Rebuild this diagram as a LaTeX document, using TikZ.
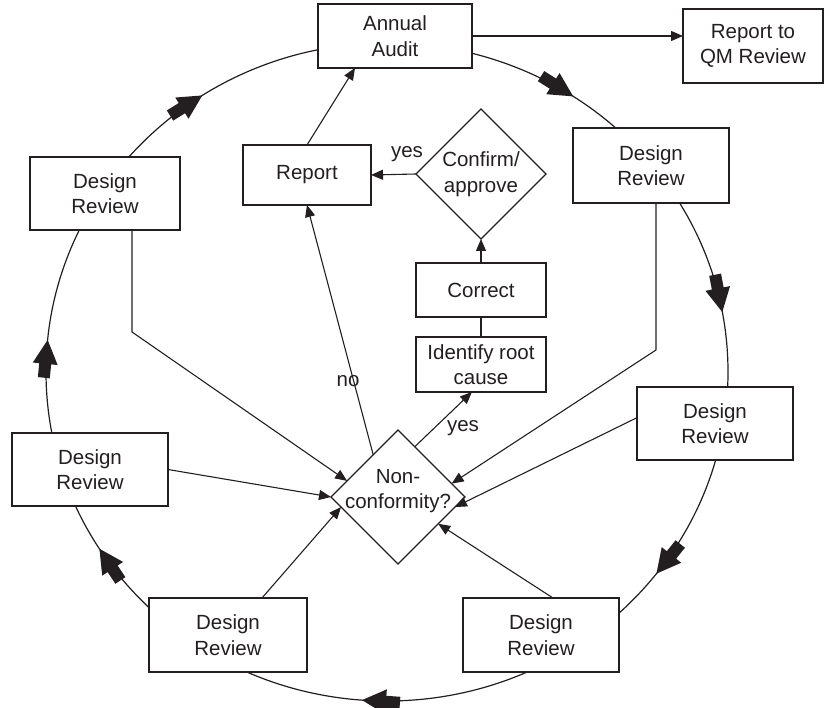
\documentclass[tikz,border=0pt]{standalone}
\usepackage{fontspec}
\setmainfont{Liberation Sans}
\usetikzlibrary{arrows.meta,shapes.geometric,calc}
\definecolor{ink}{RGB}{35,31,32}

\begin{document}
\begin{tikzpicture}[x=1pt,y=-1pt,
  every node/.style={font=\fontsize{20.5}{25.5}\selectfont, text=ink},
  box/.style={draw=ink, line width=1.2pt, fill=white, align=center,
    inner sep=0pt, outer sep=0pt},
  decision/.style={diamond, aspect=1, draw=ink, line width=1.2pt, fill=white,
    inner sep=0pt, outer sep=0pt},
  inside/.style={align=center, inner sep=0pt},
  lbl/.style={inner sep=0pt},
  flow/.style={draw=ink, line width=1.1pt, -{Triangle[length=12pt,width=10pt]}},
  link/.style={draw=ink, line width=1.1pt},
  ring/.style={draw=ink, line width=1.2pt},
  cycarrow/.pic={\fill[ink] (0,0) -- (-24,-12.5) -- (-24,-6) -- (-38,-6)
    -- (-38,6) -- (-24,6) -- (-24,12.5) -- cycle;}]

\useasboundingbox (0,0) rectangle (830,708);

% the review cycle
\draw[ring] (387,372) ellipse [x radius=341, y radius=329];
\foreach \t in {237.2, 303.1, 349.5, 37.8, 94.2, 147.5, 185.6} {
  \pgfmathsetmacro\ax{387+341*cos(\t)}
  \pgfmathsetmacro\ay{372+329*sin(\t)}
  \pgfmathsetmacro\ar{atan2(-329*cos(\t),-341*sin(\t))}
  \pic[rotate=\ar] at (\ax,\ay) {cycarrow};
}

% boxes on the cycle
\node[box, minimum width=154pt, minimum height=64pt] (audit) at (395,36) {Annual\\Audit};
\node[box, minimum width=140pt, minimum height=74pt] (qm) at (753,46) {Report to\\QM Review};
\node[box, minimum width=150pt, minimum height=73pt] (dr1) at (105,193.5) {Design\\Review};
\node[box, minimum width=156pt, minimum height=73pt] (dr2) at (90,469.5) {Design\\Review};
\node[box, minimum width=158pt, minimum height=74pt] (dr3) at (228,635) {Design\\Review};
\node[box, minimum width=156pt, minimum height=74pt] (dr4) at (541,635) {Design\\Review};
\node[box, minimum width=156pt, minimum height=73pt] (dr5) at (715,423.5) {Design\\Review};
\node[box, minimum width=156pt, minimum height=75pt] (dr6) at (651,165.5) {Design\\Review};

% inner flow
\node[box, minimum width=128pt, minimum height=60pt] (report) at (307,175) {Report};
\node[decision, minimum size=130pt,
  label={[inside]center:Confirm/\\approve}] (confirm) at (481,174) {};
\node[box, minimum width=130pt, minimum height=54pt] (correct) at (481,290) {Correct};
\node[box, minimum width=130pt, minimum height=55pt] (rootcause) at (481,364.5) {Identify root\\cause};
\node[decision, minimum size=134pt,
  label={[inside, yshift=6pt]center:Non-\\conformity?}] (nonconf) at (398,497) {};

\coordinate (k1) at (132,332);
\coordinate (k6) at (656,350);

% connectors
\draw[flow] (audit.east) -- (audit.east -| qm.west);
\draw[flow] (report.north) -- ($(audit.south west)!0.24!(audit.south east)$);
\draw[flow] (confirm.west) -- (report.east);
\draw[flow] (correct.north) -- (confirm.south);
\draw[link] (rootcause.north) -- (correct.south);
\draw[flow] ($(nonconf.north)!0.25!(nonconf.east)$) -- ($(rootcause.south west)!0.43!(rootcause.south east)$);
\draw[flow] ($(nonconf.west)!0.63!(nonconf.north)$) -- (report.south);

\draw[flow] (dr1.south -| k1) -- (k1) -- ($(nonconf.west)!0.24!(nonconf.north)$);
\draw[flow] (dr2.east) -- (nonconf.west);
\draw[flow] ($(dr3.north west)!0.715!(dr3.north east)$) -- ($(nonconf.west)!0.15!(nonconf.south)$);
\draw[flow] ($(dr4.north west)!0.577!(dr4.north east)$) -- ($(nonconf.east)!0.4!(nonconf.south)$);
\draw[flow] ($(dr5.north west)!0.42!(dr5.south west)$) -- ($(nonconf.east)!0.15!(nonconf.south)$);
\draw[flow] (dr6.south -| k6) -- (k6) -- ($(nonconf.north)!0.8!(nonconf.east)$);

% branch labels
\node[lbl] (yesreport) at (407,154) {yes};
\node[lbl] (yesroot) at (463,428) {yes};
\node[lbl] (noreport) at (348,381) {no};

\end{tikzpicture}
\end{document}
